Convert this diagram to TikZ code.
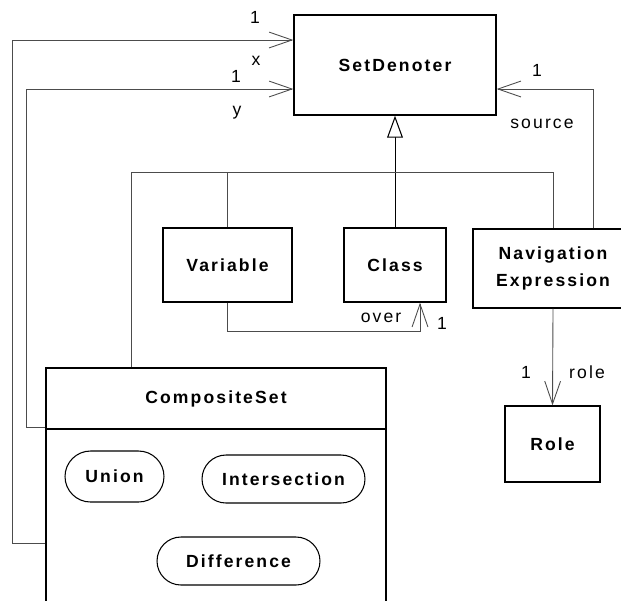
\documentclass[tikz,border=0pt]{standalone}
\usepackage{fontspec}
\setmainfont{Liberation Sans}[LetterSpace=12]
\usetikzlibrary{arrows.meta,shapes.misc}

\begin{document}
\begin{tikzpicture}[
  x=0.02cm, y=-0.02cm,
  every node/.style={inner sep=1pt, font=\fontsize{10}{12}\selectfont},
  classbox/.style={draw, line width=0.8pt, fill=white, inner sep=0pt, font=\fontsize{10}{12}\selectfont\bfseries},
  litbox/.style={draw, line width=0.6pt, rounded rectangle, inner sep=0pt, font=\fontsize{10}{12}\selectfont\bfseries},
  conn/.style={draw, black!70, line width=0.5pt},
  assoc/.style={conn, -{Straight Barb[length=13pt, width=9pt, line width=0.5pt]}},
  isa/.style={draw, line width=0.45pt, -{Triangle[open, length=12.5pt, width=9pt, fill=white, line width=0.6pt]}}]

  \useasboundingbox (0,0) rectangle (621,600);
  \clip (0,0) rectangle (621,600);

  %% ---------------- classes ----------------
  \node[classbox, minimum width=4.04cm, minimum height=2.00cm] (setd) at (395,65) {SetDenoter};
  \node[classbox, minimum width=2.58cm, minimum height=1.48cm] (var)  at (227.5,265) {Variable};
  \node[classbox, minimum width=2.04cm, minimum height=1.48cm] (cls)  at (395,265) {Class};
  \node[classbox, minimum width=3.20cm, minimum height=1.58cm, align=center] (navx) at (553,268.5) {Navigation\\[3pt]Expression};
  \node[classbox, minimum width=1.90cm, minimum height=1.52cm] (role) at (552.5,444) {Role};
  % composite set: title compartment, then the literals
  \node[classbox, minimum width=6.80cm, minimum height=5.44cm] (cset) at (216,504) {};
  \node[font=\fontsize{10}{12}\selectfont\bfseries] (csetT) at (216,399) {CompositeSet};
  \draw[line width=0.8pt] (cset.west |- 0,429) -- (cset.east |- 0,429);
  \node[litbox, minimum width=1.98cm, minimum height=1.02cm] (uni)  at (114.5,476.5) {Union};
  \node[litbox, minimum width=3.26cm, minimum height=0.96cm] (isec) at (283.5,479) {Intersection};
  \node[litbox, minimum width=3.26cm, minimum height=0.96cm] (diff) at (238.5,561) {Difference};

  %% ---------------- generalisation ----------------
  \coordinate (busL) at (131,172);
  \coordinate (busR) at (553,172);
  \draw[isa] (cls.north) -- (setd.south);
  \draw[conn] (busL |- cset.north) -- (busL) -- (busR) -- (navx.north);
  \draw[conn] (var.north) -- (var.north |- busL);

  %% ---------------- associations ----------------
  % x and y: from the composite set back to the set denoter
  \coordinate (xC) at (12,543);
  \coordinate (yC) at (26,427);
  \draw[assoc] (cset.west |- xC) -- (xC) |- (setd.west |- 0,40);
  \draw[assoc] (cset.west |- yC) -- (yC) |- (setd.west |- 0,89);
  \node (x1) at (255,17) {1};
  \node (xL) at (256,61) {x};
  \node (y1) at (236,76) {1};
  \node (yL) at (237,113) {y};
  % source
  \coordinate (srcC) at (593,89);
  \draw[assoc] (navx.north -| srcC) -- (srcC) -- (setd.east |- srcC);
  \node (src1) at (537,70) {1};
  \node (srcL) at (542,124) {source};
  % over
  \coordinate (overC) at (420,331);
  \draw[assoc] (var.south) |- (overC) -- (overC |- cls.south);
  \node (overL) at (381,318) {over};
  \node (over1) at (442,323) {1};
  % role
  \draw[assoc] (navx.south) -- (role.north);
  \node (role1) at (526,372) {1};
  \node (roleL) at (587,372) {role};

\end{tikzpicture}
\end{document}
